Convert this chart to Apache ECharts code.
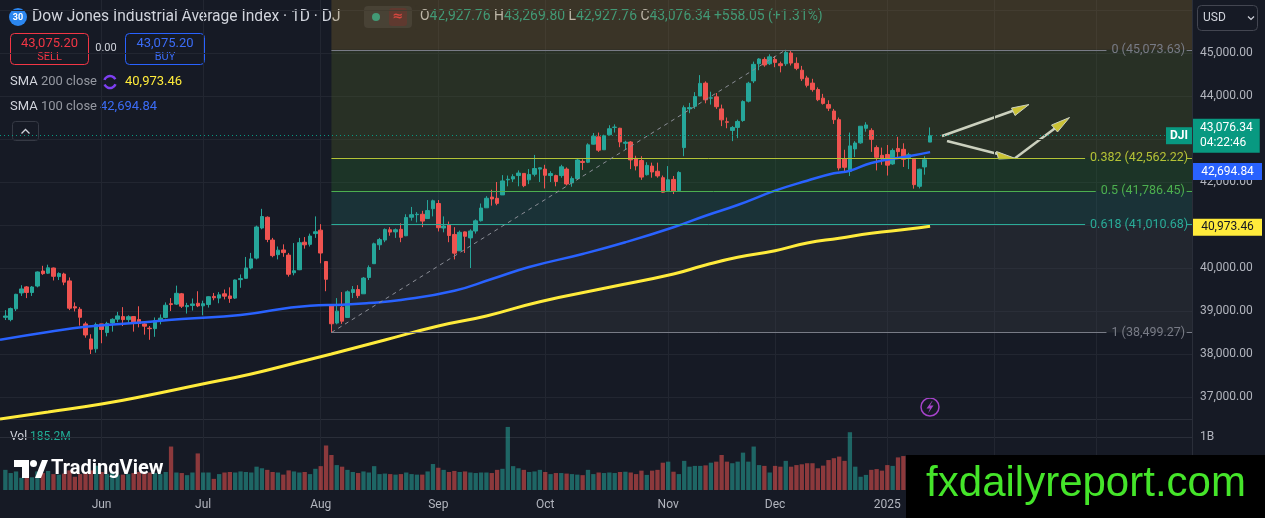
<!DOCTYPE html>
<html>
<head>
<meta charset="utf-8">
<script src="https://cdn.jsdelivr.net/npm/echarts@6/dist/echarts.min.js"></script>
<style>
html,body{margin:0;padding:0;background:#161a25}
#main{width:1265px;height:518px}
</style>
</head>
<body>
<div id="main"></div>
<script>
// daily candles: date, open, close, low, high
var candles = [
['2024-05-07',38853,38884,38790,39020],['2024-05-08',38800,39056,38760,39080],['2024-05-09',39050,39388,39000,39400],
['2024-05-10',39420,39513,39350,39600],['2024-05-13',39560,39432,39300,39580],['2024-05-14',39430,39558,39350,39580],
['2024-05-15',39580,39908,39550,39920],['2024-05-16',39930,39869,39840,40051],['2024-05-17',39880,40004,39860,40077],
['2024-05-20',40000,39807,39710,40010],['2024-05-21',39800,39873,39720,39900],['2024-05-22',39860,39671,39600,39890],
['2024-05-23',39700,39065,39020,39780],['2024-05-24',39100,39070,38990,39200],['2024-05-28',39040,38853,38660,39090],
['2024-05-29',38700,38442,38380,38750],['2024-05-30',38350,38112,38000,38460],['2024-05-31',38120,38686,38030,38730],
['2024-06-03',38700,38571,38250,38700],['2024-06-04',38500,38711,38410,38750],['2024-06-05',38720,38807,38520,38830],
['2024-06-06',38810,38886,38740,38980],['2024-06-07',38870,38799,38650,39090],['2024-06-10',38800,38868,38700,38900],
['2024-06-11',38870,38747,38520,38880],['2024-06-12',38800,38712,38620,39110],['2024-06-13',38700,38647,38450,38720],
['2024-06-14',38600,38589,38330,38650],['2024-06-17',38590,38778,38400,38850],['2024-06-18',38780,38834,38690,38920],
['2024-06-20',38850,39134,38830,39200],['2024-06-21',39170,39150,39000,39300],['2024-06-24',39160,39411,39140,39590],
['2024-06-25',39400,39112,39070,39420],['2024-06-26',39100,39128,38940,39190],['2024-06-27',39130,39164,39010,39290],
['2024-06-28',39180,39119,39090,39460],['2024-07-01',39120,39170,38900,39240],['2024-07-02',39150,39332,39080,39340],
['2024-07-03',39340,39308,39250,39420],['2024-07-05',39300,39376,39180,39440],['2024-07-08',39400,39345,39270,39500],
['2024-07-09',39350,39291,39190,39550],['2024-07-10',39300,39721,39280,39730],['2024-07-11',39730,39753,39540,39850],
['2024-07-12',39760,40001,39750,40257],['2024-07-15',40000,40212,39970,40352],['2024-07-16',40230,40954,40200,40986],
['2024-07-17',40930,41198,40900,41376],['2024-07-18',41180,40665,40600,41200],['2024-07-19',40650,40288,40250,40700],
['2024-07-22',40310,40415,40200,40500],['2024-07-23',40420,40358,40260,40550],['2024-07-24',40300,39854,39800,40350],
['2024-07-25',39890,39935,39830,40580],['2024-07-26',39960,40589,39950,40700],['2024-07-29',40600,40539,40450,40720],
['2024-07-30',40550,40743,40500,40800],['2024-07-31',40800,40843,40700,41200],['2024-08-01',40880,40348,40110,41020],
['2024-08-02',40150,39737,39460,40160],['2024-08-05',39120,38703,38499.27,39130],['2024-08-06',38720,38997,38690,39300],
['2024-08-07',39090,38763,38700,39440],['2024-08-08',38850,39446,38850,39480],['2024-08-09',39430,39498,39300,39580],
['2024-08-12',39500,39357,39300,39600],['2024-08-13',39400,39766,39400,39790],['2024-08-14',39780,40009,39720,40060],
['2024-08-15',40100,40563,40100,40590],['2024-08-16',40540,40660,40420,40700],['2024-08-19',40650,40897,40600,40920],
['2024-08-20',40890,40835,40750,40950],['2024-08-21',40840,40890,40700,40920],['2024-08-22',40900,40713,40600,41040],
['2024-08-23',40750,41175,40740,41250],['2024-08-26',41180,41240,41100,41420],['2024-08-27',41240,41250,41060,41300],
['2024-08-28',41250,41091,40950,41330],['2024-08-29',41150,41335,41150,41580],['2024-08-30',41380,41563,41200,41590],
['2024-09-03',41500,40937,40850,41580],['2024-09-04',40930,40975,40830,41200],['2024-09-05',41000,40756,40600,41080],
['2024-09-06',40780,40345,40200,40950],['2024-09-09',40400,40830,40400,40870],['2024-09-10',40840,40737,40350,40850],
['2024-09-11',40700,40861,40000,40900],['2024-09-12',40860,41097,40800,41130],['2024-09-13',41100,41394,41080,41500],
['2024-09-16',41400,41622,41400,41670],['2024-09-17',41650,41606,41450,41820],['2024-09-18',41620,41503,41460,42000],
['2024-09-19',41700,42025,41700,42160],['2024-09-20',42050,42063,41900,42150],['2024-09-23',42070,42125,42000,42180],
['2024-09-24',42150,42208,41900,42270],['2024-09-25',42200,41915,41880,42200],['2024-09-26',42050,42175,41950,42300],
['2024-09-27',42180,42313,42130,42630],['2024-09-30',42300,42330,42000,42340],['2024-10-01',42300,42156,41850,42400],
['2024-10-02',42150,42196,42000,42250],['2024-10-03',42150,42012,41900,42170],['2024-10-04',42150,42353,42100,42400],
['2024-10-07',42300,41954,41920,42340],['2024-10-08',41980,42080,41890,42130],['2024-10-09',42080,42512,42050,42540],
['2024-10-10',42480,42454,42280,42530],['2024-10-11',42460,42864,42440,42900],['2024-10-14',42880,43065,42870,43140],
['2024-10-15',43050,42740,42700,43150],['2024-10-16',42750,43077,42750,43100],['2024-10-17',43100,43239,43080,43320],
['2024-10-18',43270,43276,43150,43340],['2024-10-21',43250,42931,42810,43260],['2024-10-22',42900,42925,42750,42960],
['2024-10-23',42930,42514,42300,42950],['2024-10-24',42550,42374,42270,42610],['2024-10-25',42500,42114,42050,42600],
['2024-10-28',42170,42387,42150,42460],['2024-10-29',42370,42233,42100,42450],['2024-10-30',42250,42142,42100,42450],
['2024-10-31',42100,41763,41750,42150],['2024-11-01',41800,42052,41780,42370],['2024-11-04',42060,41794,41720,42140],
['2024-11-05',41800,42222,41790,42250],['2024-11-06',42800,43729,42600,43780],['2024-11-07',43700,43730,43600,43840],
['2024-11-08',43760,43989,43700,44090],['2024-11-11',44000,44293,44000,44486],['2024-11-12',44300,43911,43830,44340],
['2024-11-13',43950,43958,43800,44100],['2024-11-14',43980,43751,43700,44070],['2024-11-15',43700,43445,43300,43800],
['2024-11-18',43400,43390,43250,43500],['2024-11-19',43200,43269,42950,43300],['2024-11-20',43270,43408,43020,43450],
['2024-11-21',43430,43870,43400,43900],['2024-11-22',43880,44297,43850,44330],['2024-11-25',44350,44736,44300,44800],
['2024-11-26',44750,44860,44600,44880],['2024-11-27',44850,44722,44680,44900],['2024-11-29',44750,44911,44720,44970],
['2024-12-02',44850,44782,44670,44930],['2024-12-03',44750,44705,44550,44800],['2024-12-04',44750,45014,44700,45073.63],
['2024-12-05',45000,44766,44710,45050],['2024-12-06',44760,44643,44600,44900],['2024-12-09',44600,44401,44350,44700],
['2024-12-10',44420,44248,44200,44470],['2024-12-11',44300,44149,44100,44400],['2024-12-12',44150,43914,43880,44200],
['2024-12-13',43950,43828,43800,44050],['2024-12-16',43800,43717,43650,43900],['2024-12-17',43650,43450,43350,43700],
['2024-12-18',43450,42326,42270,43500],['2024-12-19',42540,42342,42240,42750],['2024-12-20',42250,42840,42140,43150],
['2024-12-23',42770,42907,42580,42950],['2024-12-24',42910,43297,42890,43300],['2024-12-26',43250,43326,43170,43390],
['2024-12-27',43200,42992,42700,43250],['2024-12-30',42800,42574,42270,42850],['2024-12-31',42620,42544,42400,42800],
['2025-01-02',42640,42392,42150,42860],['2025-01-03',42420,42732,42400,42780],['2025-01-06',42780,42706,42550,43050],
['2025-01-07',42760,42528,42350,42900],['2025-01-08',42560,42635,42300,42680],['2025-01-10',42530,41938,41845,42540],
['2025-01-13',41900,42297,41850,42310],['2025-01-14',42350,42518,42170,42600],['2025-01-15',42927.76,43076.34,42927.76,43269.80]
];

// volume in millions, same order as candles
var volumes = [
380,320,350,230,230,240,350,320,360,300,290,310,370,250,300,330,370,460,
340,300,330,280,290,300,320,340,310,330,320,300,340,820,330,320,280,330,690,
330,330,210,300,330,340,330,350,340,330,440,410,380,340,330,290,370,350,330,340,300,400,
450,840,660,470,440,380,340,320,350,330,450,300,310,300,290,300,330,300,290,290,350,490,
420,380,340,360,340,350,330,320,330,330,320,380,400,1190,450,410,380,340,350,380,
340,300,320,320,310,300,290,280,380,300,330,320,330,320,340,345,330,300,365,285,365,380,515,
535,345,300,550,440,455,455,465,515,535,660,535,505,535,705,535,820,470,455,330,
455,440,550,440,470,485,505,505,410,460,565,600,630,550,1090,440,250,285,380,395,365,
470,455,615,640,470,500,450,420,185.2
];

// moving averages: [date, value]
var sma100 = [
['2024-05-06',38333],['2024-05-17',38512],['2024-05-29',38635],['2024-06-11',38721],['2024-06-25',38814],
['2024-07-11',38907],['2024-07-30',39123],['2024-08-07',39146],['2024-08-14',39186],['2024-08-22',39256],
['2024-09-06',39472],['2024-09-17',39744],['2024-09-26',40023],['2024-10-10',40326],['2024-10-22',40598],
['2024-11-04',40947],['2024-11-12',41216],['2024-11-20',41465],['2024-12-02',41798],['2024-12-10',42030],
['2024-12-17',42202],['2024-12-20',42263],['2024-12-27',42442],['2025-01-08',42598],['2025-01-15',42694.84]
];
var sma200 = [
['2024-05-06',36488],['2024-05-17',36651],['2024-06-03',36837],['2024-06-14',37047],['2024-06-28',37279],
['2024-07-15',37535],['2024-07-26',37814],['2024-08-05',38000],['2024-08-19',38326],['2024-09-03',38651],
['2024-09-16',38884],['2024-09-30',39216],['2024-10-17',39551],['2024-11-04',39860],['2024-11-12',40070],
['2024-11-20',40249],['2024-12-02',40402],['2024-12-10',40581],['2024-12-18',40691],['2024-12-27',40807],
['2025-01-08',40907],['2025-01-15',40973.46]
];

// fibonacci retracement
var fibLevels = ['0', '0.382', '0.5', '0.618', '1'];
var fibPrices = [45073.63, 42562.22, 41786.45, 41010.68, 38499.27];
var fibColors = ['#787b86', '#b5c236', '#4caf50', '#2bab98', '#787b86'];
var fibLabelAt = ['+33', '+29', '+31', '+29', '+33'];
var fibFills = ['rgba(142,113,47,0.3)', 'rgba(82,99,40,0.3)', 'rgba(42,113,47,0.3)', 'rgba(35,106,100,0.3)', 'rgba(62,66,74,0.3)'];

var monthTicks = ['2024-06-03','2024-07-01','2024-08-01','2024-09-03','2024-10-01','2024-11-01','2024-12-02','2025-01-02','+12','+31'];
var monthNames = ['Jun','Jul','Aug','Sep','Oct','Nov','Dec','2025','Feb','Mar'];

var lastPrice = 43076.34;

function fmt(v) {
    return v.toLocaleString('en-US', {minimumFractionDigits: 2, maximumFractionDigits: 2});
}

var categories = ['2024-05-06'];
candles.forEach(function (c) { categories.push(c[0]); });
for (var k = 1; k <= 49; k++) categories.push('+' + k);

var tickMap = {};
monthTicks.forEach(function (d, i) { tickMap[d] = monthNames[i]; });

var ohlc = ['-'];
var volData = ['-'];
candles.forEach(function (c, i) {
    ohlc.push([c[1], c[2], c[3], c[4]]);
    volData.push({
        value: volumes[i],
        itemStyle: {color: c[2] >= c[1] ? 'rgba(38,166,154,0.55)' : 'rgba(239,83,80,0.55)'}
    });
});

// fib bands and lines
var bands = [[{xAxis: '2024-08-05', yAxis: fibPrices[0], itemStyle: {color: fibFills[0]}}, {xAxis: '+49', yAxis: 46232}]];
for (var b = 0; b < 4; b++) {
    bands.push([{xAxis: '2024-08-05', yAxis: fibPrices[b + 1], itemStyle: {color: fibFills[b + 1]}},
                {xAxis: '+49', yAxis: fibPrices[b]}]);
}
var lines = [];
fibPrices.forEach(function (p, i) {
    lines.push([{coord: ['2024-08-05', p], lineStyle: {color: fibColors[i], width: 1, type: 'solid'},
                 label: {show: true, position: 'end', distance: 5, color: fibColors[i], fontSize: 12.5,
                         formatter: fibLevels[i] + ' (' + fmt(p) + ')'}},
                {coord: [fibLabelAt[i], p]}]);
    lines.push([{coord: ['+48', p], lineStyle: {color: fibColors[i], width: 1, type: 'solid'}, label: {show: false}},
                {coord: ['+49', p]}]);
});
lines.push([{coord: ['2024-08-05', fibPrices[4]], lineStyle: {color: '#8a8d96', width: 1, type: [4, 4]}, label: {show: false}},
            {coord: ['2024-12-04', fibPrices[0]]}]);
lines.push({yAxis: lastPrice, lineStyle: {color: '#089981', width: 1, type: [1, 3]},
    label: {show: true, position: 'end', distance: 1, formatter: fmt(lastPrice) + '\n04:22:46',
            backgroundColor: '#089981', color: '#ffffff', fontSize: 12, lineHeight: 15, padding: [2, 7, 2, 7]}});

var grey = '#222631';

var chart = echarts.init(document.getElementById('main'));
var option = {
    backgroundColor: '#161a25',
    animation: false,
    textStyle: {fontFamily: 'Roboto'},
    grid: [
        {left: 0, right: 73, top: 0, height: 440},
        {left: 0, right: 73, top: 419, height: 71}
    ],
    xAxis: [
        {type: 'category', gridIndex: 0, data: categories, boundaryGap: false,
         axisLine: {show: false}, axisTick: {show: false}, axisLabel: {show: false},
         splitLine: {show: true, interval: function (i, v) { return tickMap[v] !== undefined; }, lineStyle: {color: grey}}},
        {type: 'category', gridIndex: 1, data: categories, boundaryGap: false,
         axisLine: {show: false}, axisTick: {show: false},
         axisLabel: {show: true, color: '#b2b5be', fontSize: 12, margin: 9,
                     interval: function (i, v) { return tickMap[v] !== undefined; },
                     formatter: function (v) { return tickMap[v] || ''; }},
         splitLine: {show: true, interval: function (i, v) { return tickMap[v] !== undefined; }, lineStyle: {color: grey}}}
    ],
    yAxis: [
        {type: 'value', gridIndex: 0, position: 'right', min: 36000, max: 46232.6, interval: 1000,
         axisLine: {show: true, lineStyle: {color: '#2a2e39'}}, axisTick: {show: false},
         axisLabel: {color: '#b2b5be', fontSize: 12, margin: 8,
                     formatter: function (v) { return (v >= 37000 && v <= 45000 && v % 1000 === 0) ? fmt(v) : ''; }},
         splitLine: {show: true, showMinLine: false, showMaxLine: false, lineStyle: {color: grey}}},
        {type: 'value', gridIndex: 1, position: 'right', min: 0, max: 1339.6, interval: 1000,
         axisLine: {show: true, lineStyle: {color: '#2a2e39'}}, axisTick: {show: false},
         axisLabel: {color: '#b2b5be', fontSize: 12, margin: 8,
                     formatter: function (v) { return v === 1000 ? '1B' : ''; }},
         splitLine: {show: true, showMinLine: false, showMaxLine: true, lineStyle: {color: '#2a2e39'}}}
    ],
    series: [
        {
            type: 'candlestick', xAxisIndex: 0, yAxisIndex: 0, data: ohlc, barWidth: 4,
            itemStyle: {color: '#26a69a', color0: '#ef5350', borderColor: '#26a69a', borderColor0: '#ef5350', borderWidth: 1},
            markArea: {silent: true, data: bands},
            markLine: {silent: true, symbol: ['none', 'none'], animation: false, data: lines},
            markPoint: {silent: true, data: [{coord: ['+49', lastPrice], symbol: 'rect', symbolSize: [26, 17], symbolOffset: [-13, 0],
                itemStyle: {color: '#089981'},
                label: {show: true, position: 'inside', formatter: 'DJI', color: '#fff', fontSize: 12, fontWeight: 'bold'}}]}
        },
        {
            type: 'line', xAxisIndex: 0, yAxisIndex: 0, data: sma100, smooth: 0.5, showSymbol: false,
            lineStyle: {color: '#2962ff', width: 2.5}, z: 3,
            markPoint: {silent: true, data: [{coord: ['+49', 42694.84], symbol: 'rect', symbolSize: [69, 17], symbolOffset: [35.5, 19.5],
                itemStyle: {color: '#2962ff'},
                label: {show: true, position: 'inside', formatter: '42,694.84', color: '#fff', fontSize: 12}}]}
        },
        {
            type: 'line', xAxisIndex: 0, yAxisIndex: 0, data: sma200, smooth: 0.5, showSymbol: false,
            lineStyle: {color: '#ffeb3b', width: 3}, z: 3,
            markPoint: {silent: true, data: [{coord: ['+49', 40973.46], symbol: 'rect', symbolSize: [69, 17], symbolOffset: [35.5, 1],
                itemStyle: {color: '#ffeb3b'},
                label: {show: true, position: 'inside', formatter: '40,973.46', color: '#131722', fontSize: 12}}]}
        },
        {
            type: 'bar', xAxisIndex: 1, yAxisIndex: 1, data: volData, barWidth: 4.3
        }
    ],
    graphic: [
        // legend / header
        {type: 'circle', shape: {cx: 18, cy: 17, r: 9}, style: {fill: '#2b86ef'}},
        {type: 'text', x: 18, y: 17.5, style: {text: '30', fill: '#fff', font: 'bold 9px Roboto', align: 'center', verticalAlign: 'middle', textAlign: 'center', textVerticalAlign: 'middle'}},
        {type: 'text', x: 32, y: 17, style: {text: 'Dow Jones Industrial Average Index · 1D · DJ', fill: '#d1d4dc', font: '15.6px Roboto', verticalAlign: 'middle', textVerticalAlign: 'middle'}},
        {type: 'rect', shape: {x: 364, y: 6, width: 48, height: 22, r: 4}, style: {fill: '#2a2e39'}},
        {type: 'circle', shape: {cx: 376, cy: 17, r: 4}, style: {fill: '#22ab94'}},
        {type: 'rect', shape: {x: 389, y: 8, width: 18, height: 18, r: 3}, style: {fill: '#4b2230'}},
        {type: 'text', x: 398, y: 17, style: {text: '≈', fill: '#f23645', font: 'bold 13px "DejaVu Sans"', align: 'center', verticalAlign: 'middle', textAlign: 'center', textVerticalAlign: 'middle'}},
        {type: 'rect', shape: {x: 415, y: 5, width: 402, height: 25, r: 3}, style: {fill: 'rgba(22,26,37,0.45)'}},
        {type: 'text', x: 420, y: 17, style: {
            text: '{l|O}{v|42,927.76} {l|H}{v|43,269.80} {l|L}{v|42,927.76} {l|C}{v|43,076.34} {v|+558.05 (+1.31%)}',
            font: '13.9px Roboto', verticalAlign: 'middle', textVerticalAlign: 'middle',
            rich: {l: {fill: '#d1d4dc', font: '13.9px Roboto'}, v: {fill: '#22ab94', font: '13.9px Roboto'}}}},
        {type: 'rect', shape: {x: 10.5, y: 33.5, width: 78, height: 31, r: 4}, style: {fill: '#161a25', stroke: '#f23645', lineWidth: 1}},
        {type: 'text', x: 49.5, y: 43.5, style: {text: '43,075.20', fill: '#f23645', font: '13px Roboto', align: 'center', verticalAlign: 'middle', textAlign: 'center', textVerticalAlign: 'middle'}},
        {type: 'text', x: 49.5, y: 57, style: {text: 'SELL', fill: '#f23645', font: '11px Roboto', align: 'center', verticalAlign: 'middle', textAlign: 'center', textVerticalAlign: 'middle'}},
        {type: 'text', x: 106, y: 48.5, style: {text: '0.00', fill: '#d1d4dc', font: '11px Roboto', align: 'center', verticalAlign: 'middle', textAlign: 'center', textVerticalAlign: 'middle'}},
        {type: 'rect', shape: {x: 125.5, y: 33.5, width: 79, height: 31, r: 4}, style: {fill: '#161a25', stroke: '#2962ff', lineWidth: 1}},
        {type: 'text', x: 165, y: 43.5, style: {text: '43,075.20', fill: '#3b6cf6', font: '13px Roboto', align: 'center', verticalAlign: 'middle', textAlign: 'center', textVerticalAlign: 'middle'}},
        {type: 'text', x: 165, y: 57, style: {text: 'BUY', fill: '#3b6cf6', font: '11px Roboto', align: 'center', verticalAlign: 'middle', textAlign: 'center', textVerticalAlign: 'middle'}},
        {type: 'text', x: 10, y: 82, style: {text: '{a|SMA} {b|200 close}', font: '13px Roboto', verticalAlign: 'middle', textVerticalAlign: 'middle',
            rich: {a: {fill: '#d1d4dc', font: '13px Roboto'}, b: {fill: '#9598a1', font: '13px Roboto'}}}},
        {type: 'arc', shape: {cx: 110, cy: 82, r: 6, startAngle: 0.4, endAngle: 2.7}, style: {stroke: '#7e3ff2', lineWidth: 2.5, fill: null}},
        {type: 'arc', shape: {cx: 110, cy: 82, r: 6, startAngle: 3.5, endAngle: 5.8}, style: {stroke: '#7e3ff2', lineWidth: 2.5, fill: null}},
        {type: 'text', x: 125, y: 82, style: {text: '40,973.46', fill: '#ffeb3b', font: '13px Roboto', verticalAlign: 'middle', textVerticalAlign: 'middle'}},
        {type: 'text', x: 10, y: 107, style: {text: '{a|SMA} {b|100 close}', font: '13px Roboto', verticalAlign: 'middle', textVerticalAlign: 'middle',
            rich: {a: {fill: '#d1d4dc', font: '13px Roboto'}, b: {fill: '#9598a1', font: '13px Roboto'}}}},
        {type: 'text', x: 100, y: 107, style: {text: '42,694.84', fill: '#3b6cf6', font: '13px Roboto', verticalAlign: 'middle', textVerticalAlign: 'middle'}},
        {type: 'rect', shape: {x: 12.5, y: 121.5, width: 26, height: 19, r: 3}, style: {fill: '#161a25', stroke: '#363a45', lineWidth: 1}},
        {type: 'polyline', shape: {points: [[21.5, 133.5], [25.5, 129.5], [29.5, 133.5]]}, style: {stroke: '#d1d4dc', lineWidth: 1.3, fill: null}},
        // currency selector
        {type: 'rect', shape: {x: 1197.5, y: 5.5, width: 60, height: 25, r: 4}, style: {fill: '#161a25', stroke: '#434651', lineWidth: 1}},
        {type: 'text', x: 1203, y: 18, style: {text: 'USD', fill: '#d1d4dc', font: '12px Roboto', verticalAlign: 'middle', textVerticalAlign: 'middle'}},
        {type: 'polyline', shape: {points: [[1248, 16.5], [1251, 19.5], [1254, 16.5]]}, style: {stroke: '#d1d4dc', lineWidth: 1.2, fill: null}},
        // volume legend
        {type: 'text', x: 10, y: 437, style: {text: '{a|Vol} {b|185.2M}', font: '12px Roboto', verticalAlign: 'middle', textVerticalAlign: 'middle',
            rich: {a: {fill: '#d1d4dc', font: '12px Roboto'}, b: {fill: '#22ab94', font: '12px Roboto'}}}},
        // drawn arrows
        {type: 'polyline', shape: {points: [[942, 136], [1018, 109]]}, style: {stroke: '#ffffff', lineWidth: 2.5}},
        {type: 'polygon', shape: {points: [[1029, 104.5], [1011.5, 108], [1015, 115.5]]}, style: {fill: '#ffeb3b', stroke: '#ffffff', lineWidth: 1}},
        {type: 'polyline', shape: {points: [[947, 141], [1000, 154.5]]}, style: {stroke: '#ffffff', lineWidth: 2.5}},
        {type: 'polygon', shape: {points: [[1015, 158.3], [996.5, 151.5], [998.5, 159]]}, style: {fill: '#ffeb3b', stroke: '#ffffff', lineWidth: 1}},
        {type: 'polyline', shape: {points: [[1015, 158.3], [1056, 127.5]]}, style: {stroke: '#ffffff', lineWidth: 2.5}},
        {type: 'polygon', shape: {points: [[1069.5, 117.5], [1051.5, 125], [1057.5, 132]]}, style: {fill: '#ffeb3b', stroke: '#ffffff', lineWidth: 1}},
        // lightning badge
        {type: 'circle', shape: {cx: 930, cy: 407, r: 9}, style: {fill: '#161a25', stroke: '#a543c9', lineWidth: 1.5}},
        {type: 'polygon', shape: {points: [[932, 401], [926.5, 408.5], [930, 408.5], [928, 413.5], [933.5, 405.5], [930, 405.5], [932.5, 401]]}, style: {fill: '#a543c9'}},
        // TradingView watermark
        {type: 'polygon', z: 50, shape: {points: [[14, 460], [29, 460], [29, 478], [22, 478], [22, 467], [14, 467]]}, style: {fill: '#ffffff'}},
        {type: 'circle', z: 50, shape: {cx: 33.5, cy: 463.5, r: 3.5}, style: {fill: '#ffffff'}},
        {type: 'polygon', z: 50, shape: {points: [[35, 478], [42, 460], [48, 460], [41, 478]]}, style: {fill: '#ffffff'}},
        {type: 'text', z: 50, x: 51, y: 469, style: {text: 'TradingView', fill: '#ffffff', font: 'bold 20px Roboto', verticalAlign: 'middle', textVerticalAlign: 'middle'}},
        // site banner
        {type: 'rect', z: 100, shape: {x: 906, y: 455, width: 359, height: 63}, style: {fill: '#000000'}},
        {type: 'text', z: 101, x: 1086, y: 484, style: {text: 'fxdailyreport.com', fill: '#45e52a', font: '42px "Liberation Sans"', align: 'center', verticalAlign: 'middle', textAlign: 'center', textVerticalAlign: 'middle'}}
    ]
};
chart.setOption(option);
</script>
</body>
</html>
